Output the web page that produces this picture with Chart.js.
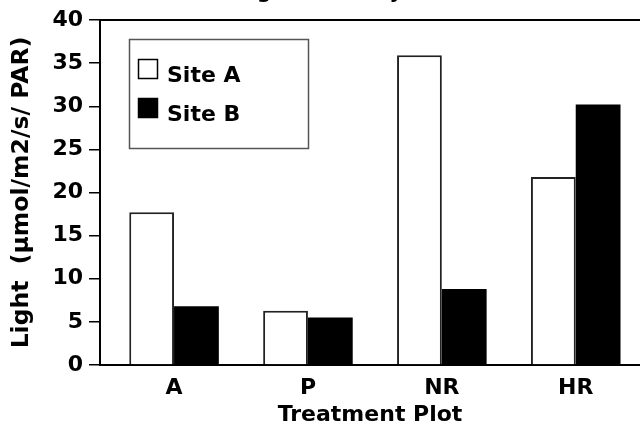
<!DOCTYPE html>
<html><head><meta charset="utf-8">
<script src="https://cdn.jsdelivr.net/npm/chart.js@4/dist/chart.umd.min.js"></script>
<style>html,body{margin:0;padding:0;background:#fff;overflow:hidden}canvas{display:block}</style>
</head><body>
<canvas id="c" width="640" height="433"></canvas>
<script>
const categories = ['A', 'P', 'NR', 'HR'];
const seriesNames = ['Site A', 'Site B'];
const siteA = [17.7, 6.3, 35.9, 21.8];
const siteB = [6.8, 5.5, 8.8, 30.2];
const yMin = 0, yMax = 40, yStep = 5;
const chartTitle = 'Light Intensity';
const xTitle = 'Treatment Plot';
const yTitle = 'Light  (\u00b5mol/m2/s/ PAR)';

const FONT = "'DejaVu Sans', sans-serif";
Chart.defaults.font.family = FONT;
Chart.defaults.font.weight = 'bold';
Chart.defaults.color = '#000';

const toPoints = arr => arr.map((v, i) => ({x: i, y: v}));

const boxLegend = {
  id: 'boxLegend',
  afterDraw(chart) {
    const ctx = chart.ctx;
    const a = chart.chartArea;
    const L = a.left + 29, T = a.top + 19, W = 179, H = 109;
    ctx.save();
    ctx.strokeStyle = '#555';
    ctx.lineWidth = 1.5;
    ctx.strokeRect(L + 0.5, T + 0.5, W, H);
    ctx.font = 'bold 22px ' + FONT;
    ctx.textBaseline = 'alphabetic';
    ctx.textAlign = 'left';
    chart.data.datasets.forEach((ds, i) => {
      const sy = T + 20 + i * 39;
      ctx.fillStyle = ds.backgroundColor;
      ctx.fillRect(L + 9, sy, 20, 20);
      ctx.strokeStyle = '#000';
      ctx.lineWidth = 1.5;
      ctx.strokeRect(L + 9.5, sy + 0.5, 19, 19);
      ctx.fillStyle = '#000';
      ctx.fillText(ds.label, L + 38, sy + 23);
    });
    ctx.restore();
  }
};

new Chart(document.getElementById('c'), {
  type: 'bar',
  data: {
    datasets: [
      {label: seriesNames[0], data: toPoints(siteA), backgroundColor: '#ffffff', borderColor: '#222', borderWidth: 2,
       categoryPercentage: 0.669, barPercentage: 1.0},
      {label: seriesNames[1], data: toPoints(siteB), backgroundColor: '#000000', borderWidth: 0,
       categoryPercentage: 0.669, barPercentage: 1.0}
    ]
  },
  options: {
    responsive: false,
    animation: false,
    events: [],
    layout: {padding: 0},
    plugins: {
      legend: {display: false},
      tooltip: {enabled: false},
      title: {display: true, text: chartTitle, font: {size: 20, weight: 'bold'}, color: '#000',
              padding: {top: -19, bottom: 15}}
    },
    scales: {
      x: {
        type: 'linear', position: 'bottom', offset: false,
        min: -0.553, max: 3.48,
        afterBuildTicks: s => { s.ticks = categories.map((c, i) => ({value: i})); },
        afterFit: s => { s.height = 68; },
        grid: {display: false, drawTicks: false, offset: false},
        border: {display: true, color: '#000', width: 2},
        ticks: {padding: 10, font: {size: 22, weight: 'bold'}, color: '#000',
                callback: v => categories[v] ?? ''},
        title: {display: true, text: xTitle, font: {size: 22, weight: 'bold'}, color: '#000',
                padding: {top: 0, bottom: 5}}
      },
      x2: {
        type: 'linear', position: 'top', display: true,
        grid: {display: false, drawTicks: false},
        ticks: {display: false},
        border: {display: true, color: '#000', width: 2}
      },
      y: {
        min: yMin, max: yMax,
        afterFit: s => { s.width = 100; },
        ticks: {stepSize: yStep, padding: 6, font: {size: 22, weight: 'bold'}, color: '#000'},
        grid: {display: true, drawOnChartArea: false, drawTicks: true, tickLength: 11, color: '#000', lineWidth: 1.5},
        border: {display: true, color: '#000', width: 2},
        title: {display: true, text: yTitle, font: {size: 23.5, weight: 'bold'}, color: '#000',
                padding: {top: 8, bottom: 0}}
      }
    }
  },
  plugins: [boxLegend]
});
</script>
</body></html>
